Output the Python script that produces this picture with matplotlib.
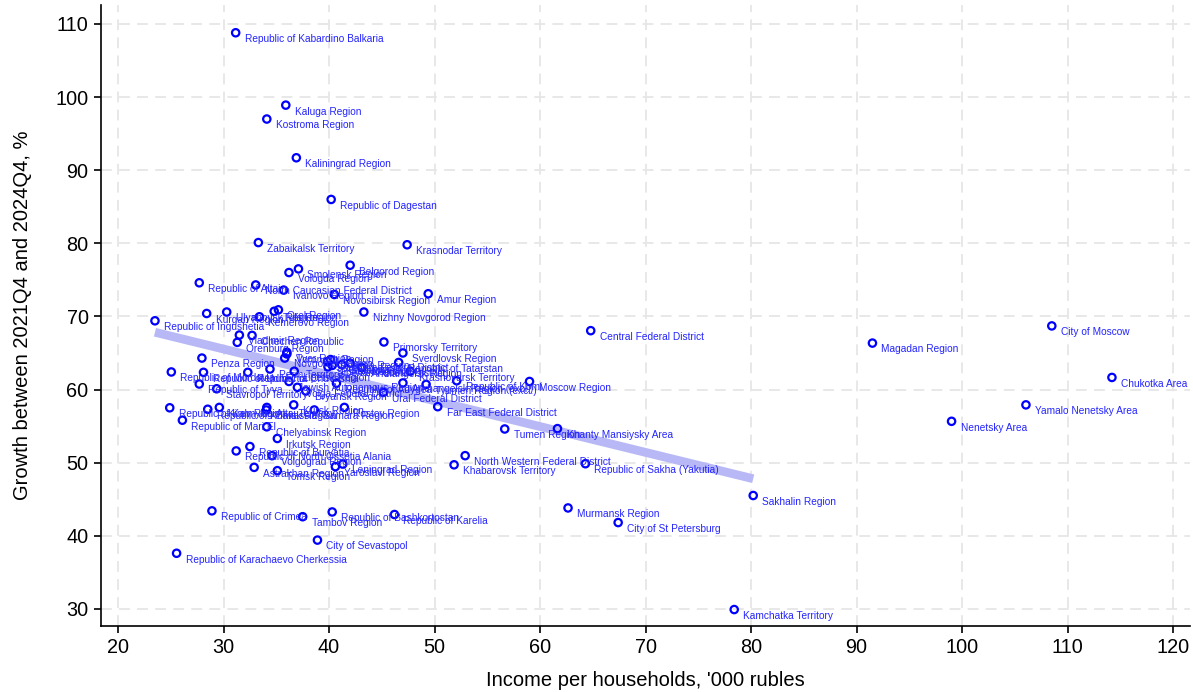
import matplotlib
matplotlib.use('Agg')
import matplotlib.pyplot as plt
import numpy as np

regions = [
    "Republic of Kabardino Balkaria", "Kaluga Region", "Kostroma Region", "Kaliningrad Region",
    "Republic of Dagestan", "Zabaikalsk Territory", "Krasnodar Territory", "Belgorod Region",
    "Smolensk Region", "Vologda Region", "Republic of Altai", "North Caucasian Federal District",
    "Ivanovo Region", "Novosibirsk Region", "Amur Region", "Nizhny Novgorod Region",
    "Republic of Ingushetia", "Kurgan Region", "Ulyanovsk Region", "Kemerovo Region",
    "Tula Region", "Orel Region", "Vladimir Region", "Chechen Republic", "Orenburg Region",
    "Penza Region", "Primorsky Territory", "Sverdlovsk Region", "Republic of Tatarstan",
    "Krasnoyarsk Territory", "Republic of Komi", "Moscow Region", "Far East Federal District",
    "Ural Federal District", "Republic of Tyva", "Stavropol Territory", "Jewish Autonomous Region",
    "Bryansk Region", "Samara Region", "Republic of Mari El", "Chelyabinsk Region",
    "Irkutsk Region", "Republic of Buryatia", "Republic of North Ossetia Alania",
    "Volgograd Region", "Astrakhan Region", "Tomsk Region", "Yaroslavl Region",
    "Leningrad Region", "Republic of Crimea", "Tambov Region", "City of Sevastopol",
    "Republic of Karachaevo Cherkessia", "Republic of Bashkortostan", "Republic of Karelia",
    "Murmansk Region", "City of St Petersburg", "Kamchatka Territory", "Sakhalin Region",
    "Republic of Sakha (Yakutia)", "North Western Federal District", "Khabarovsk Territory",
    "Tumen Region", "Khanty Mansiysky Area", "Central Federal District", "Magadan Region",
    "City of Moscow", "Chukotka Area", "Yamalo Nenetsky Area", "Nenetsky Area",
    "Tver Region", "Novgorod Region",
    "Republic of Mordovia", "Republic of Udmurtia", "Republic of Chuvashia", "Perm Territory",
    "Lipetsk Region", "Volga Federal District", "Kursk Region", "Republic of Kalmykia",
    "Republic of Khakassia", "Kirov Region", "Altai Territory", "Omsk Region", "Rostov Region",
    "Voronezh Region", "Southern Federal District", "Ryazan Region", "Pskov Region",
    "Siberian Federal District", "Saratov Region", "Republic of Adygea", "Russia",
    "Arkhangelsk Region", "Arkhangelsk Region (excl.)", "Tyumen Region (excl.)",
]
income = [
    31.15, 35.9, 34.1, 36.9,
    40.2, 33.3, 47.4, 42.0,
    37.1, 36.2, 27.7, 33.05,
    35.7, 40.5, 49.4, 43.3,
    23.5, 28.4, 30.3, 33.4,
    34.8, 35.2, 31.5, 32.7, 31.3,
    27.95, 45.2, 47.0, 46.6,
    47.7, 52.1, 59.0, 50.3,
    45.15, 27.7, 29.35, 36.2,
    37.8, 38.6, 26.1, 34.1,
    35.1, 32.5, 31.2,
    34.6, 32.9, 35.1, 40.6,
    41.3, 28.9, 37.5, 38.9,
    25.55, 40.3, 46.2,
    62.65, 67.4, 78.4, 80.2,
    64.3, 52.9, 51.85,
    56.65, 61.65, 64.8, 91.5,
    108.5, 114.2, 106.05, 99.0,
    36.0, 35.8,
    25.05, 28.1, 32.3, 34.4,
    36.7, 37.0, 36.65, 24.9,
    28.5, 29.6, 34.1, 34.05, 41.45,
    36.0, 39.85, 40.15, 40.3,
    39.9, 41.2, 40.7, 42.0,
    43.1, 47.0, 49.2,
]
growth = [
    108.8, 98.9, 97.0, 91.7,
    86.0, 80.1, 79.8, 77.0,
    76.5, 76.0, 74.6, 74.3,
    73.6, 73.0, 73.1, 70.6,
    69.4, 70.4, 70.6, 69.95,
    70.7, 70.9, 67.45, 67.4, 66.45,
    64.3, 66.5, 65.0, 63.7,
    62.5, 61.2, 61.1, 57.65,
    59.6, 60.75, 60.1, 61.1,
    59.8, 57.2, 55.8, 54.9,
    53.3, 52.2, 51.6,
    50.95, 49.35, 48.9, 49.45,
    49.8, 43.4, 42.6, 39.4,
    37.6, 43.25, 42.9,
    43.8, 41.8, 29.9, 45.5,
    49.85, 50.95, 49.7,
    54.6, 54.65, 68.05, 66.35,
    68.7, 61.65, 57.9, 55.65,
    65.1, 64.3,
    62.4, 62.35, 62.35, 62.8,
    62.5, 60.3, 57.9, 57.5,
    57.3, 57.55, 57.55, 57.2, 57.55,
    64.86, 63.8, 64.1, 63.3,
    63.1, 63.4, 60.85, 63.6,
    63.0, 60.9, 60.7,
]

x_ticks = list(range(20, 121, 10))
y_ticks = list(range(30, 111, 10))
fit_cutoff = 85

plt.rcParams['font.family'] = ['Liberation Sans', 'DejaVu Sans']

fig = plt.figure(figsize=(11.93, 6.92), dpi=100)
ax = fig.add_axes([0.0847, 0.0958, 0.9128, 0.8970])

x = np.array(income)
y = np.array(growth)
mask = x < fit_cutoff
b, a = np.polyfit(x[mask], y[mask], 1)
xl = np.array([x[mask].min(), x[mask].max()])
ax.plot(xl, a + b * xl, color='#b8b8f6', linewidth=6.3, solid_capstyle='butt', zorder=2)

ax.scatter(x, y, s=28, facecolors='none', edgecolors='#0000ff', linewidths=1.6, zorder=3)
for name, xi, yi in zip(regions, x, y):
    ax.annotate(name, (xi, yi), xytext=(6.5, -4.6), textcoords='offset points',
                ha='left', va='center', fontsize=7.3, color='#2424ff', zorder=4)

ax.set_xlim(18.39, 121.6)
ax.set_ylim(27.69, 112.6)
ax.set_xticks(x_ticks)
ax.set_yticks(y_ticks)
ax.grid(True, color='#e6e6e6', linestyle=(0, (6, 4)), linewidth=1.3)
ax.set_axisbelow(True)
for s in ['top', 'right']:
    ax.spines[s].set_visible(False)
for s in ['left', 'bottom']:
    ax.spines[s].set_linewidth(1.2)
ax.tick_params(direction='out', length=5, width=1.2, labelsize=14.3, colors='black', pad=4)
ax.set_xlabel("Income per households, '000 rubles", fontsize=14.5, labelpad=10)
ax.set_ylabel("Growth between 2021Q4 and 2024Q4, %", fontsize=14.5, labelpad=17)

fig.savefig('out.png', dpi=100)
